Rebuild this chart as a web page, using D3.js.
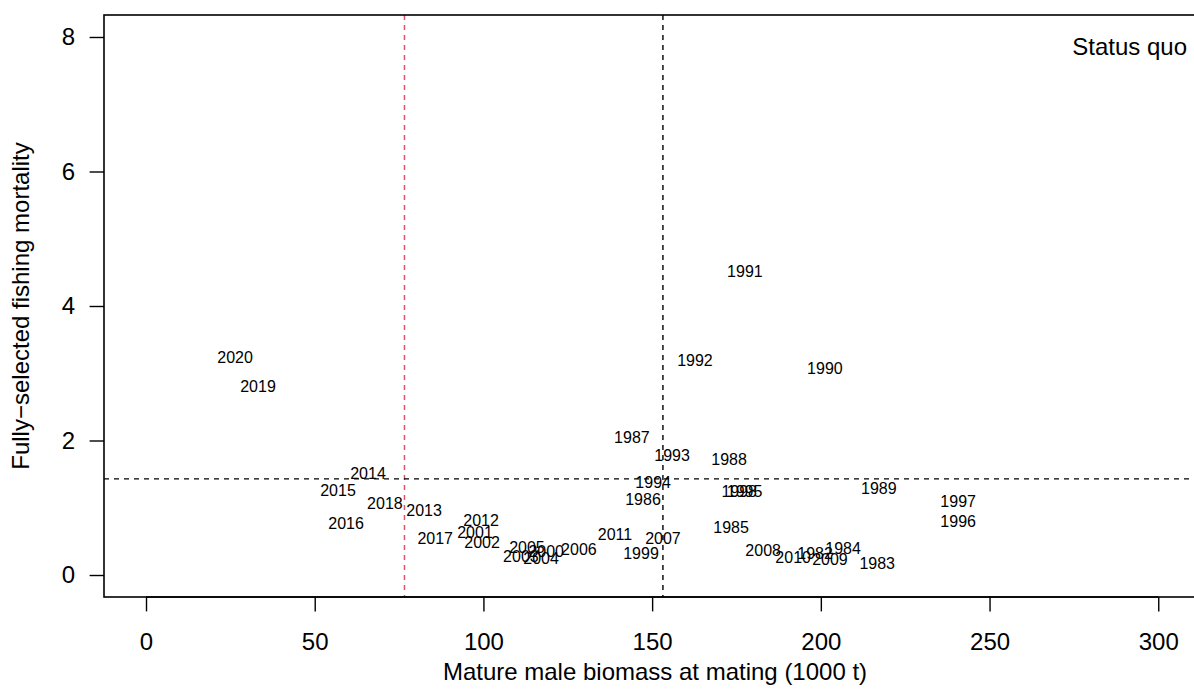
<!DOCTYPE html>
<html><head><meta charset="utf-8">
<script src="https://cdn.jsdelivr.net/npm/d3@7"></script>
<style>body{margin:0;background:#fff;overflow:hidden} text{font-family:"Liberation Sans",Arial,sans-serif}</style>
</head><body>
<svg id="c" width="1194" height="689"></svg>
<script>
const years = [1982,1983,1984,1985,1986,1987,1988,1989,1990,1991,1992,1993,1994,1995,1996,1997,1998,1999,2000,2001,2002,2003,2004,2005,2006,2007,2008,2009,2010,2011,2012,2013,2014,2015,2016,2017,2018,2019,2020];
const biomass = [198.3,216.7,206.6,173.4,147.3,144.0,172.8,217.2,201.2,177.5,162.7,155.9,150.3,177.4,240.7,240.7,175.8,146.7,118.6,97.5,99.6,111.1,117.1,112.9,128.3,153.2,182.9,202.7,191.8,139.0,99.3,82.4,65.8,56.9,59.3,85.7,70.8,33.2,26.4];
const fishingMortality = [0.33,0.18,0.40,0.71,1.13,2.05,1.72,1.29,3.08,4.52,3.20,1.78,1.38,1.25,0.80,1.10,1.25,0.33,0.36,0.64,0.49,0.28,0.25,0.42,0.39,0.54,0.37,0.24,0.27,0.61,0.82,0.97,1.52,1.26,0.77,0.54,1.07,2.81,3.24];
const xTicks = [0,50,100,150,200,250,300];
const yTicks = [0,2,4,6,8];
const bMsy = [153.2];
const halfBMsy = [76.6];
const fMsy = [1.43];
const xTitle = "Mature male biomass at mating (1000 t)";
const yTitle = "Fully\u2212selected fishing mortality";
const legendText = "Status quo";

const svg = d3.select("#c");
const L = 104, T = 15, B = 597, R = 1234;
const x = d3.scaleLinear().domain([-12.45, 322.45]).range([L, R]);
const y = d3.scaleLinear().domain([-0.327, 8.327]).range([B, T]);
const FONT = '"Liberation Sans",Arial,sans-serif';

// reference lines
svg.selectAll("line.v").data(bMsy).enter().append("line")
  .attr("x1", d=>x(d)).attr("x2", d=>x(d)).attr("y1", T).attr("y2", B)
  .attr("stroke", "#000").attr("stroke-width", 1.4).attr("stroke-dasharray", "5,5");
svg.selectAll("line.r").data(halfBMsy).enter().append("line")
  .attr("x1", d=>x(d)).attr("x2", d=>x(d)).attr("y1", T).attr("y2", B)
  .attr("stroke", "#DF536B").attr("stroke-width", 1.5).attr("stroke-dasharray", "5,5");
svg.selectAll("line.h").data(fMsy).enter().append("line")
  .attr("x1", L).attr("x2", R).attr("y1", d=>y(d)).attr("y2", d=>y(d))
  .attr("stroke", "#000").attr("stroke-width", 1.4).attr("stroke-dasharray", "5,5");

// year labels
svg.append("g").selectAll("text").data(years).enter().append("text")
  .attr("x", (d,i)=>x(biomass[i])).attr("y", (d,i)=>y(fishingMortality[i]))
  .attr("dy", "0.36em").attr("text-anchor", "middle")
  .attr("font-size", 16).attr("fill", "#000").text(d=>d);

// box
svg.append("rect").attr("x", L).attr("y", T).attr("width", R-L).attr("height", B-T)
  .attr("fill", "none").attr("stroke", "#000").attr("stroke-width", 1.6);

// axes
const xa = svg.append("g").attr("transform", `translate(0,${B})`)
  .call(d3.axisBottom(x).tickValues(xTicks).tickSize(14.4).tickPadding(21.5).tickFormat(d3.format("d")));
const ya = svg.append("g").attr("transform", `translate(${L},0)`)
  .call(d3.axisLeft(y).tickValues(yTicks).tickSize(14.4).tickPadding(14.6).tickFormat(d3.format("d")));
[xa, ya].forEach(g => {
  g.select(".domain").remove();
  g.selectAll("line").attr("stroke", "#000").attr("stroke-width", 1.4);
  g.selectAll("text").attr("font-size", 24).attr("fill", "#000").style("font-family", FONT);
});
svg.append("line").attr("x1", x(xTicks[0])).attr("x2", x(xTicks[xTicks.length-1])).attr("y1", B).attr("y2", B)
  .attr("stroke", "#000").attr("stroke-width", 1.6);

svg.append("text").attr("x", 655).attr("y", 680).attr("text-anchor", "middle")
  .attr("font-size", 24).text(xTitle);
svg.append("text").attr("transform", `translate(29,${(T+B)/2}) rotate(-90)`).attr("text-anchor", "middle")
  .attr("font-size", 24).text(yTitle);
svg.append("text").attr("x", 1187).attr("y", 55).attr("text-anchor", "end")
  .attr("font-size", 24).text(legendText);
</script>
</body></html>
